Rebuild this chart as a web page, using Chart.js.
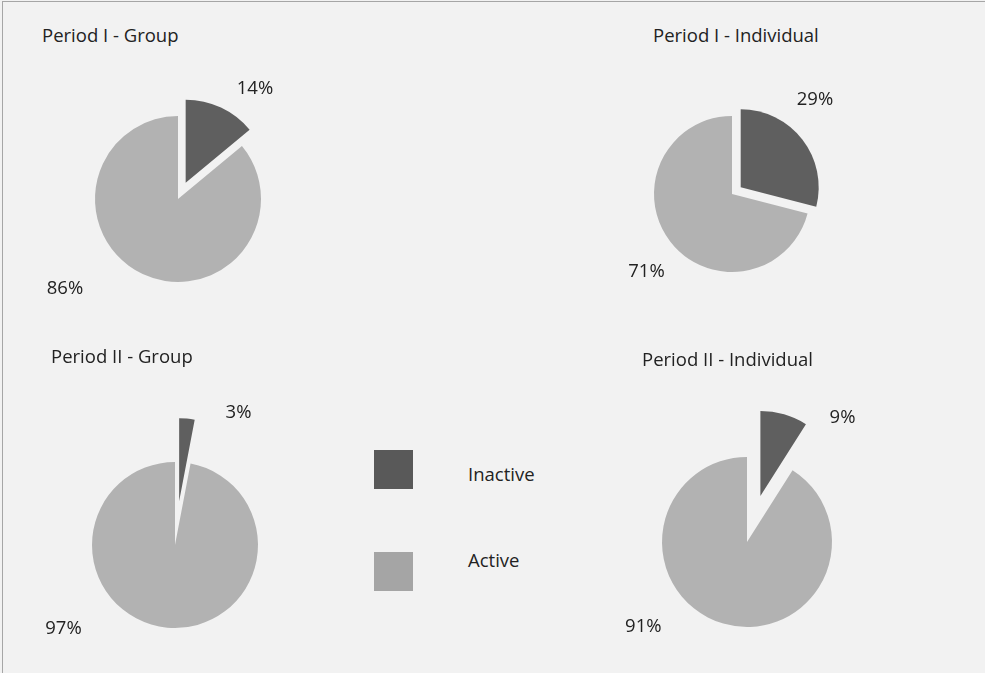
<!DOCTYPE html>
<html lang="en">
<head>
<meta charset="UTF-8" />
<title>Inactive / Active by period</title>
<script src="https://cdn.jsdelivr.net/npm/chart.js"></script>
<style>
  html, body { margin: 0; padding: 0; }
  body {
    width: 985px;
    height: 673px;
    overflow: hidden;
    position: relative;
    background: #f2f2f2;
    font-family: "Open Sans", sans-serif;
    color: #222;
  }
  .frame {
    position: absolute;
    left: 2px;
    top: 1px;
    right: -5px;
    bottom: -5px;
    border-top: 1px solid #a6a6a6;
    border-left: 1px solid #a6a6a6;
  }
  canvas { position: absolute; }
  .txt {
    position: absolute;
    font-size: 18.5px;
    line-height: 1;
    white-space: nowrap;
    transform: translateY(-50%);
  }
  .swatch { position: absolute; width: 39px; height: 39px; }
</style>
</head>
<body>
<div class="frame"></div>
<div id="stage"></div>
<script>
  const categories = ["Inactive", "Active"]
  const panels = ["Period I - Group", "Period I - Individual", "Period II - Group", "Period II - Individual"]
  const inactive = [14, 29, 3, 9]
  const active = [86, 71, 97, 91]

  const sliceColors = ["#5f5f5f", "#b2b2b2"]
  const legendColors = ["#595959", "#a5a5a5"]

  // where each pie sits, how far its first slice is pulled out, and label offsets from the centre
  const layout = [
    { cx: 178, cy: 199, r: 83, explode: 18, title: [42, 35], labels: [[77, -111.5], [-113, 88.5]] },
    { cx: 732, cy: 194, r: 78, explode: 11, title: [653, 35], labels: [[83, -95.5], [-85.5, 76]] },
    { cx: 175, cy: 545, r: 83, explode: 44, title: [51, 356], labels: [[63.5, -133.3], [-111.5, 82]] },
    { cx: 747, cy: 542, r: 85, explode: 48, title: [642, 358.5], labels: [[95.5, -125.3], [-103.7, 83.5]] },
  ]

  const SIZE = 320
  const stage = document.getElementById("stage")

  // pulls the first slice out along its middle angle
  const explodePlugin = {
    id: "explodeSlice",
    afterDatasetUpdate(chart, args, opts) {
      const arc = args.meta.data[0]
      if (!arc) return
      const mid = (arc.startAngle + arc.endAngle) / 2
      arc.x += Math.cos(mid) * opts.distance
      arc.y += Math.sin(mid) * opts.distance
    },
  }

  // percentage labels outside the pie
  const labelPlugin = {
    id: "pctLabels",
    afterDatasetsDraw(chart, args, opts) {
      const ctx = chart.ctx
      const area = chart.chartArea
      const cx = (area.left + area.right) / 2
      const cy = (area.top + area.bottom) / 2
      const values = chart.data.datasets[0].data
      ctx.save()
      ctx.font = '18.5px "Open Sans"'
      ctx.fillStyle = "#222"
      ctx.textAlign = "center"
      ctx.textBaseline = "alphabetic"
      values.forEach((v, i) => {
        const [dx, dy] = opts.offsets[i]
        ctx.fillText(v + "%", cx + dx, cy + dy + 6.6)
      })
      ctx.restore()
    },
  }

  panels.forEach((name, i) => {
    const pos = layout[i]

    const title = document.createElement("div")
    title.className = "txt"
    title.textContent = name
    title.style.left = pos.title[0] + "px"
    title.style.top = pos.title[1] + "px"
    stage.appendChild(title)

    const canvas = document.createElement("canvas")
    canvas.width = SIZE
    canvas.height = SIZE
    canvas.style.left = pos.cx - SIZE / 2 + "px"
    canvas.style.top = pos.cy - SIZE / 2 + "px"
    stage.appendChild(canvas)

    new Chart(canvas, {
      type: "pie",
      data: {
        labels: categories,
        datasets: [
          {
            data: [inactive[i], active[i]],
            backgroundColor: sliceColors,
            borderWidth: 0,
          },
        ],
      },
      options: {
        responsive: false,
        animation: false,
        events: [],
        devicePixelRatio: 1,
        radius: pos.r,
        layout: { padding: 0 },
        plugins: {
          legend: { display: false },
          tooltip: { enabled: false },
          explodeSlice: { distance: pos.explode },
          pctLabels: { offsets: pos.labels },
        },
      },
      plugins: [explodePlugin, labelPlugin],
    })
  })

  // legend in the middle of the lower row
  const legendRows = [
    { box: [374, 450], text: [468, 473.5] },
    { box: [374, 552], text: [468, 559.5] },
  ]
  categories.forEach((c, i) => {
    const sw = document.createElement("div")
    sw.className = "swatch"
    sw.style.left = legendRows[i].box[0] + "px"
    sw.style.top = legendRows[i].box[1] + "px"
    sw.style.background = legendColors[i]
    stage.appendChild(sw)

    const t = document.createElement("div")
    t.className = "txt"
    t.textContent = c
    t.style.left = legendRows[i].text[0] + "px"
    t.style.top = legendRows[i].text[1] + "px"
    stage.appendChild(t)
  })
</script>
</body>
</html>
